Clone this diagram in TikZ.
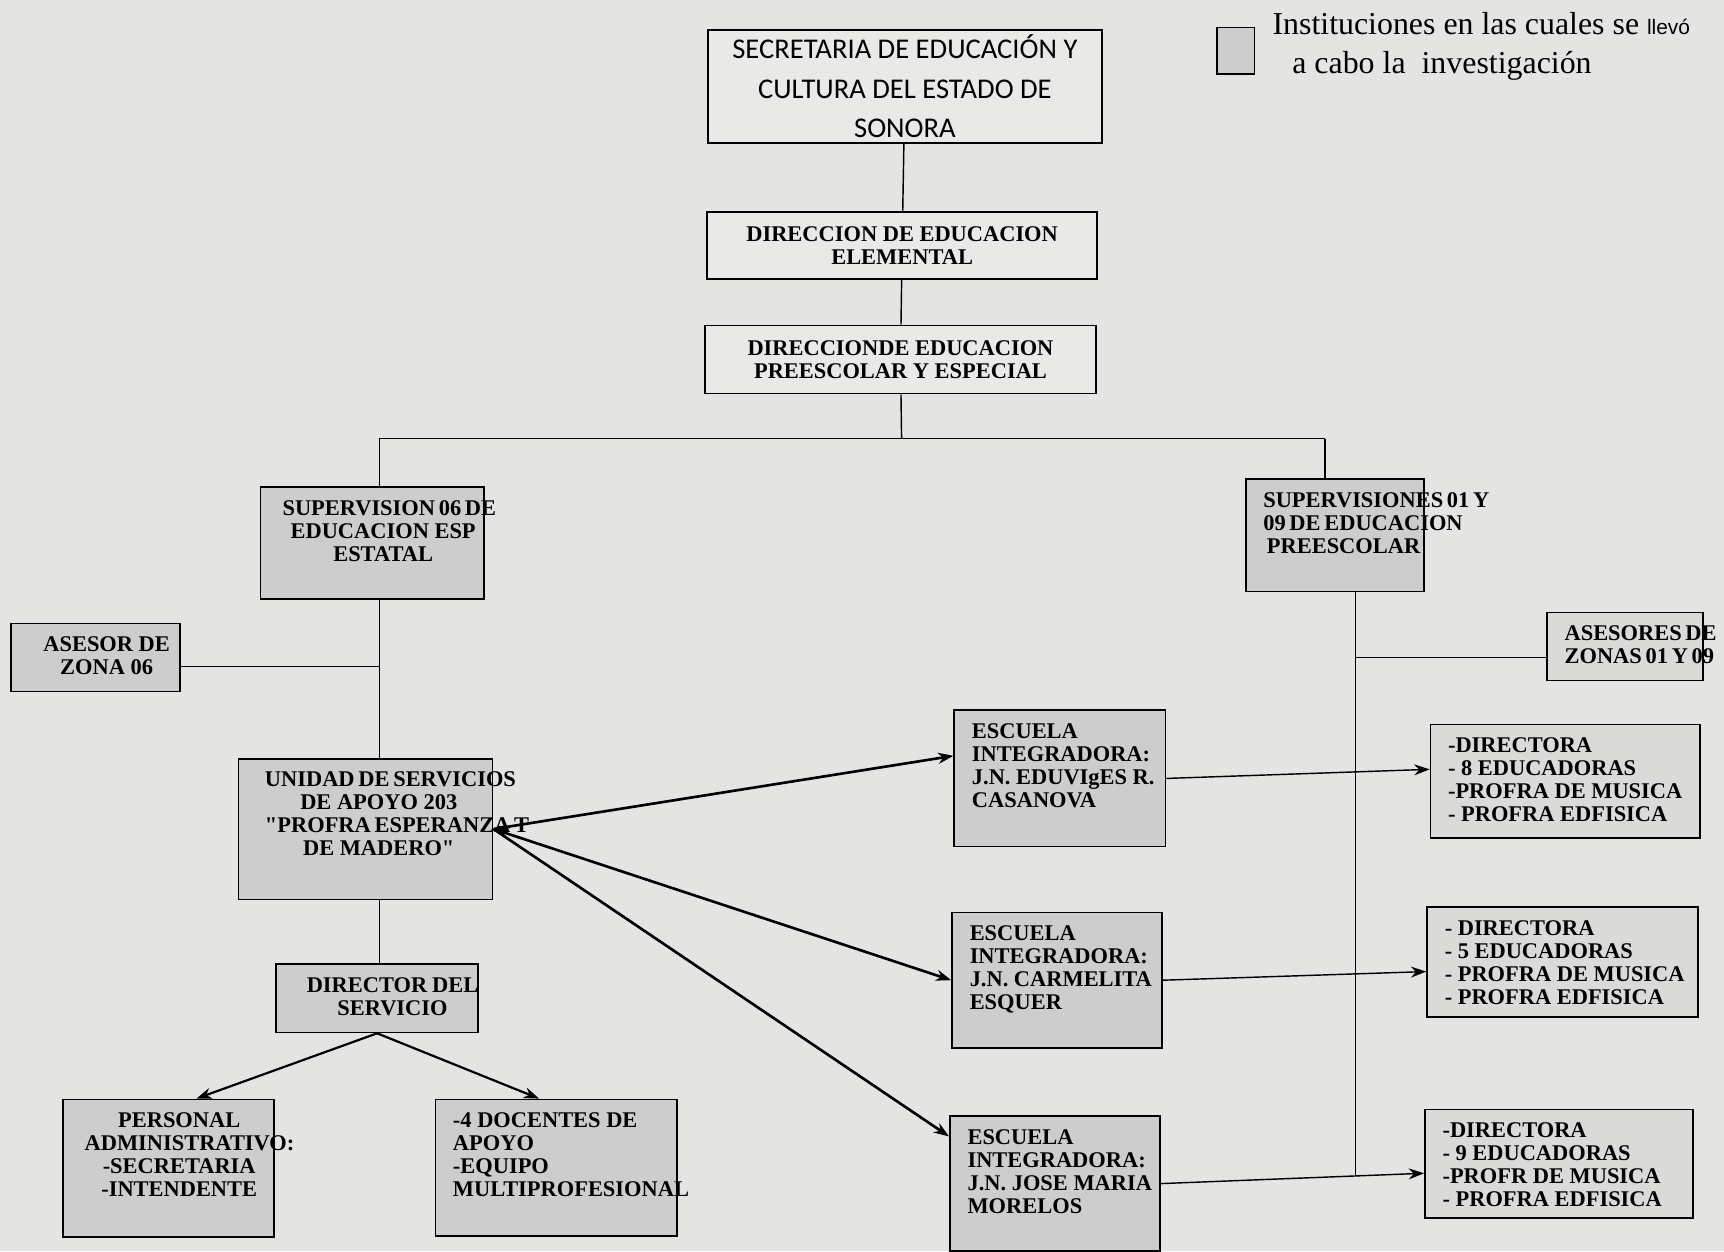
\documentclass[tikz,border=0pt]{standalone}
\usepackage{fontspec}
\setmainfont{Liberation Serif}
\newfontfamily\calib{Carlito}
\newfontfamily\lsans{Liberation Sans}
\usetikzlibrary{arrows.meta}
\definecolor{fondo}{RGB}{228,228,226}
\definecolor{gris}{RGB}{205,205,205}
\definecolor{grisc}{RGB}{218,218,217}
\definecolor{blanco}{RGB}{233,233,232}
\newcommand{\cajac}[4]{\parbox[c][#2][t]{#1}{\hyphenpenalty=10000\vspace*{6pt}\centering\leftskip=#3 plus 1fil #4\par}}
\newcommand{\cajai}[3]{\parbox[c][#2][t]{#1}{\hyphenpenalty=10000\vspace*{6pt}\raggedright\leftskip=8pt #3\par}}
\begin{document}
\begin{tikzpicture}[x=0.5pt,y=-0.5pt,
  caja/.style={draw, line width=0.8pt, inner sep=0pt},
  letra/.style={font=\fontsize{10.2}{10.5}\selectfont\bfseries},
  linea/.style={line width=0.65pt},
  >={Stealth[length=7pt,width=5pt]}]
\useasboundingbox[fill=fondo] (0,0) rectangle (1568,1138);
% leyenda
\node[caja, fill=gris, minimum width=17pt, minimum height=21pt] (ley) at (1124,46) {};
\node[anchor=base west, inner sep=0pt, font=\fontsize{14.5}{16}\selectfont] (ley1) at (1157,31) {Instituciones en las cuales se {\lsans\fontsize{9.5}{11}\selectfont llevó}};
\node[anchor=base west, inner sep=0pt, font=\fontsize{14.5}{16}\selectfont] (ley2) at (1175,67) {a cabo la \ investigación};
% nivel estatal
\node[caja, fill=blanco, minimum width=179pt, minimum height=51.5pt, align=center, font=\calib\fontsize{13}{18}\selectfont] (sec) at (823,78.5) {SECRETARIA DE EDUCACIÓN Y\\CULTURA DEL ESTADO DE\\SONORA};
\node[caja, fill=blanco, minimum width=177.5pt, minimum height=30.5pt, align=center, letra] (elem) at (820.5,223.5) {DIRECCION DE EDUCACION\\ELEMENTAL};
\node[caja, fill=blanco, minimum width=178pt, minimum height=31pt, align=center, letra] (pre) at (819,327) {DIRECCIONDE EDUCACION\\PREESCOLAR Y ESPECIAL};
\draw[linea] (sec) -- (elem);
\draw[linea] (elem) -- (pre);
% supervisiones
\node[caja, fill=gris, letra] (sup06) at (338.5,494) {\cajac{101.5pt}{51pt}{10pt}{SUPERVISION~06~DE\\EDUCACION~ESP\\ESTATAL}};
\node[caja, fill=gris, letra] (supp) at (1214,487) {\cajac{81pt}{51pt}{8pt}{SUPERVISIONES~01~Y\\09~DE~EDUCACION\\PREESCOLAR}};
\coordinate (bus) at (820,399);
\coordinate (t06) at (345,399);
\coordinate (tp) at (1205,399);
\draw[linea] (pre) -- (bus);
\draw[linea] (t06) -- (tp);
\draw[linea] (t06) -- (t06 |- sup06.north);
\draw[linea] (tp) -- (tp |- supp.north);
% rama educacion especial
\node[caja, fill=gris, letra] (ase06) at (87,598) {\cajac{77pt}{31pt}{10pt}{ASESOR~DE\\ZONA~06}};
\node[caja, fill=gris, letra] (unidad) at (332.5,754) {\cajac{115.5pt}{64pt}{12pt}{UNIDAD~DE~SERVICIOS\\DE~APOYO~203\\\textquotedbl PROFRA~ESPERANZA~T\\DE~MADERO\textquotedbl}};
\node[caja, fill=gris, letra] (dir) at (343,908) {\cajac{92pt}{31pt}{14pt}{DIRECTOR~DEL\\SERVICIO}};
\node[caja, fill=gris, letra] (pers) at (153,1062.5) {\cajac{96pt}{62.5pt}{10pt}{PERSONAL\\ADMINISTRATIVO:\\-SECRETARIA\\-INTENDENTE}};
\node[caja, fill=gris, letra] (doc) at (506,1062) {\cajai{110pt}{62pt}{-4~DOCENTES~DE\\APOYO\\-EQUIPO\\MULTIPROFESIONAL}};
\draw[linea] (t06 |- sup06.south) -- (t06 |- unidad.north);
\draw[linea] (ase06.-6) -- (ase06.-6 -| t06);
\draw[linea] (t06 |- unidad.south) -- (t06 |- dir.north);
\draw[line width=1pt, ->] (dir.south) -- (pers.68);
\draw[line width=1pt, ->] (dir.south) -- (doc.104);
% escuelas integradoras
\node[caja, fill=gris, letra] (esc1) at (964,708) {\cajai{96pt}{62pt}{ESCUELA\\INTEGRADORA:\\J.N.~EDUVIgES~R.\\CASANOVA}};
\node[caja, fill=gris, letra] (esc2) at (961.5,891.5) {\cajai{95.5pt}{61.5pt}{ESCUELA\\INTEGRADORA:\\J.N.~CARMELITA\\ESQUER}};
\node[caja, fill=gris, letra] (esc3) at (959.5,1076.5) {\cajai{95.5pt}{61.5pt}{ESCUELA\\INTEGRADORA:\\J.N.~JOSE~MARIA\\MORELOS}};
\draw[line width=1.2pt, ->] (unidad.east) -- (esc1.168);
\draw[line width=1.2pt, <->] (unidad.east) -- (esc2.west);
\draw[line width=1.2pt, ->] (unidad.east) -- (esc3.156);
% rama preescolar
\node[caja, fill=grisc, letra] (asez) at (1478,588) {\cajai{71pt}{31pt}{ASESORES~DE\\ZONAS~01~Y~09}};
\node[caja, fill=grisc, letra] (dra1) at (1423.5,710.5) {\cajai{122.5pt}{51.5pt}{-DIRECTORA\\-~8~EDUCADORAS\\-PROFRA~DE~MUSICA\\-~PROFRA~EDFISICA}};
\node[caja, fill=grisc, letra] (dra2) at (1421,875) {\cajai{123pt}{50pt}{-~DIRECTORA\\-~5~EDUCADORAS\\-~PROFRA~DE~MUSICA\\-~PROFRA~EDFISICA}};
\node[caja, fill=grisc, letra] (dra3) at (1418,1058.5) {\cajai{122pt}{49.5pt}{-DIRECTORA\\-~9~EDUCADORAS\\-PROFR~DE~MUSICA\\-~PROFRA~EDFISICA}};
\coordinate (tr) at (1233,1070);
\draw[linea] (tr |- supp.south) -- (tr);
\draw[linea] (asez.188 -| tr) -- (asez.188);
\draw[linea, ->] (esc1.east) -- (dra1.175);
\draw[linea, ->] (esc2.east) -- (dra2.184);
\draw[linea, ->] (esc3.east) -- (dra3.184);
\end{tikzpicture}
\end{document}
